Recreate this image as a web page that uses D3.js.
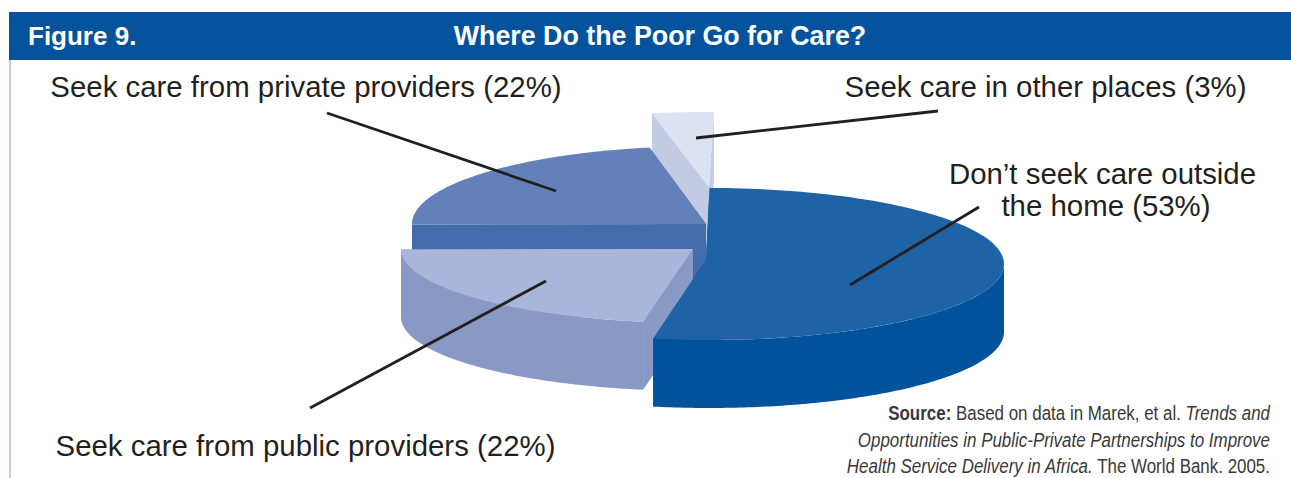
<!DOCTYPE html>
<html>
<head>
<meta charset="utf-8">
<script src="https://cdn.jsdelivr.net/npm/d3@7"></script>
<style>
  html, body { margin: 0; padding: 0; background: #fff; }
  svg { display: block; }
  text { font-family: "Liberation Sans", Arial, sans-serif; fill: #231f20; }
</style>
</head>
<body>
<svg id="chart" width="1291" height="478"></svg>
<script>
// Share of the poor by where they go for care, percent
const categories = ["home", "public", "private", "other"];
const shares = [53, 22, 22, 3];
const figureLabel = "Figure 9.";
const figureTitle = "Where Do the Poor Go for Care?";
const calloutLines = [
  "Seek care from private providers (22%)",
  "Seek care in other places (3%)",
  "Don\u2019t seek care outside",
  "the home (53%)",
  "Seek care from public providers (22%)"
];

const W = 1291, H = 478;
const svg = d3.select("#chart").attr("viewBox", `0 0 ${W} ${H}`);
const rad = d => d * Math.PI / 180;

// Placement of each exploded wedge on the tilted disc: (ax, ay) is the tip,
// (cx, cy) the centre of the ellipse its rim follows
const wedgeStyle = {
  home:    { ax: 706, ay: 260, cx: 709, cy: 264, rx: 295, ry: 76, turn: 0.4,  top: "#1f63a7", wall: "#02529c" },
  public:  { ax: 693, ay: 249, cx: 697, cy: 249, rx: 296, ry: 74, turn: 0,    top: "#a8b6d9", wall: "#8899c6" },
  private: { ax: 706, ay: 224, cx: 706, cy: 224, rx: 294, ry: 78, turn: 0,    top: "#6480b8", wall: "#446cac" },
  other:   { ax: 709, ay: 187, cx: 709, cy: 187, rx: 330, ry: 75, turn: 1.15, top: "#dde2f1", wall: "#c2cae4" }
};
const depth = 68;

const pie = d3.pie().sort(null).startAngle(rad(-0.3)).endAngle(rad(359.7));
const arcs = pie(shares).map((a, i) => {
  const s = wedgeStyle[categories[i]];
  return { key: categories[i], s, a0: a.startAngle + rad(s.turn), a1: a.endAngle + rad(s.turn) };
});
const px = (s, t) => s.cx + s.rx * Math.sin(t);
const py = (s, t) => s.cy - s.ry * Math.cos(t);
const polygon = d3.line();
const sweep = (from, to) => d3.range(0, 121).map(i => from + (to - from) * i / 120);

const disc = svg.append("g");

// Draw back to front so nearer wedges cover the ones behind
function drawWedge(d) {
  const { s, a0, a1 } = d;
  const g = disc.append("g").attr("class", "wedge-" + d.key);

  // Flat faces left by cutting the wedge out of the disc
  [a0, a1].forEach(t => {
    g.append("path")
      .attr("fill", s.wall)
      .attr("d", polygon([
        [s.ax, s.ay], [px(s, t), py(s, t)],
        [px(s, t), py(s, t) + depth], [s.ax, s.ay + depth]
      ]) + "Z");
  });

  // Curved outer wall, only where it faces the viewer
  const w0 = Math.max(a0, rad(90)), w1 = Math.min(a1, rad(270));
  if (w1 > w0) {
    g.append("path")
      .attr("fill", s.wall)
      .attr("d", d3.area().x(t => px(s, t)).y0(t => py(s, t)).y1(t => py(s, t) + depth)(sweep(w0, w1)));
  }

  // Top surface: tip, then round the rim
  const rim = sweep(a0, a1).map(t => [px(s, t), py(s, t)]);
  g.append("path")
    .attr("fill", s.top)
    .attr("d", polygon([[s.ax, s.ay], ...rim]) + "Z");
}
["other", "private", "public", "home"].forEach(k => drawWedge(arcs.find(d => d.key === k)));

// Banner across the top and the rule down the left margin
svg.append("rect").attr("x", 9).attr("y", 12).attr("width", W - 9).attr("height", 48).attr("fill", "#04539c");
svg.append("line").attr("x1", 10).attr("x2", 10).attr("y1", 60).attr("y2", H)
  .attr("stroke", "#a9b5da").attr("stroke-width", 1.4);

svg.append("text").attr("x", 28).attr("y", 45).attr("font-size", 26).attr("font-weight", 700)
  .style("fill", "#fff").text(figureLabel);
svg.append("text").attr("x", 660).attr("y", 45).attr("text-anchor", "middle").attr("font-size", 26.8)
  .attr("font-weight", 700).style("fill", "#fff").text(figureTitle);

// Callout text
const labelSize = 29.4;
const calloutAnchors = [[306, 97], [1045.5, 97], [1102.5, 184], [1106, 216], [305.5, 456]];
calloutLines.forEach((ln, i) => {
  svg.append("text").attr("x", calloutAnchors[i][0]).attr("y", calloutAnchors[i][1])
    .attr("text-anchor", "middle").attr("font-size", labelSize).text(ln);
});

// Leader lines from the callouts into the wedges
const leaders = [
  [[327, 113], [556, 191]],
  [[938, 111], [696, 138]],
  [[979, 207], [850, 285]],
  [[310, 408], [546, 281]]
];
svg.selectAll("path.leader").data(leaders).join("path").attr("class", "leader")
  .attr("d", d => polygon(d)).attr("fill", "none").attr("stroke", "#231f20").attr("stroke-width", 2.8);

// Source note, right aligned and set narrow
const sourceRuns = [
  [["Source:", 700, "normal"], [" Based on data in Marek, et al. ", 400, "normal"], ["Trends and", 400, "italic"]],
  [["Opportunities in Public-Private Partnerships to Improve", 400, "italic"]],
  [["Health Service Delivery in Africa.", 400, "italic"], [" The World Bank. 2005.", 400, "normal"]]
];
sourceRuns.forEach((runs, i) => {
  const t = svg.append("text")
    .attr("transform", `translate(1270,${420 + i * 26.5}) scale(0.86,1)`)
    .attr("text-anchor", "end").attr("font-size", 19.7).style("fill", "#3a3839");
  runs.forEach(r => {
    t.append("tspan").attr("font-weight", r[1]).attr("font-style", r[2]).attr("xml:space", "preserve").text(r[0]);
  });
});
</script>
</body>
</html>
